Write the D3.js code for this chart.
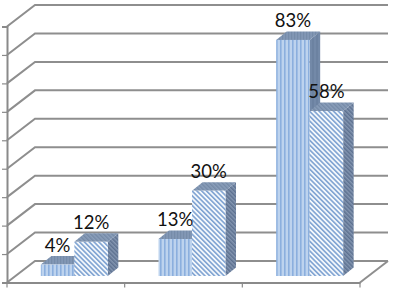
<!DOCTYPE html>
<html>
<head>
<meta charset="utf-8">
<script src="https://cdn.jsdelivr.net/npm/d3@7"></script>
<style>
  html, body { margin: 0; padding: 0; background: #fff; overflow: hidden; }
  svg { display: block; }
</style>
</head>
<body>
<div id="chart"></div>
<script>
// values
var categories = ["A", "B", "C"];
var seriesStriped = [4, 13, 83];
var seriesHatched = [12, 30, 58];
var valueTicks = [0, 10, 20, 30, 40, 50, 60, 70, 80, 90];

var width = 394, height = 289;

// the floor/wall offset of the 3d box and of the bars in it
var wall = {dx: 28, dy: -21.5};
var inset = {dx: 8, dy: -6.5};
var side = {dx: 10.5, dy: -8.5};

var svg = d3.select("#chart").append("svg")
  .attr("width", width)
  .attr("height", height);

var x = d3.scaleBand().domain(categories).range([7, 360]);
var y = d3.scaleLinear().domain([0, 90]).range([282.5, 26.5]);

// fill patterns
var defs = svg.append("defs");

function stripes(id, w, h, rotate, bg, fg, bandWidth) {
  var p = defs.append("pattern")
    .attr("id", id)
    .attr("patternUnits", "userSpaceOnUse")
    .attr("width", w)
    .attr("height", h);
  if (rotate) p.attr("patternTransform", "rotate(" + rotate + ")");
  p.append("rect").attr("width", w).attr("height", h).attr("fill", bg);
  p.append("rect").attr("width", bandWidth).attr("height", h).attr("fill", fg);
}

stripes("frontStriped", 4, 4, 0, "#bdd3ee", "#8bafde", 1.6);
stripes("frontHatched", 3.4, 3.4, -45, "#f4f8fc", "#7fa3d2", 1.6);
stripes("topStriped", 3, 3, 0, "#8297b5", "#768ca9", 1.2);
stripes("topHatched", 3, 3, -45, "#8a9eba", "#7489a6", 1.4);
stripes("sideStriped", 4, 4, 0, "#7389a8", "#6c82a1", 2);
stripes("sideHatched", 3, 3, -45, "#8496b1", "#5d7190", 1.5);

// back wall gridlines, with the slanted part down to the front edge
var grid = svg.append("g")
  .attr("fill", "none")
  .attr("stroke", "#8e8e8e")
  .attr("stroke-width", 2);

grid.selectAll("path")
  .data(valueTicks)
  .enter()
  .append("path")
  .attr("d", function(d) {
    var x0 = x.range()[0], x1 = x.range()[1] + wall.dx;
    return "M" + x0 + "," + y(d) +
      "L" + (x0 + wall.dx) + "," + (y(d) + wall.dy) +
      "L" + x1 + "," + (y(d) + wall.dy);
  });

// right edge of the floor
grid.append("path")
  .attr("d", "M" + x.range()[1] + "," + y(0) +
    "L" + (x.range()[1] + wall.dx) + "," + (y(0) + wall.dy));

// axes
var axisLeft = svg.append("g")
  .attr("transform", "translate(" + x.range()[0] + ",0)")
  .call(d3.axisLeft(y).tickValues(valueTicks).tickSize(5).tickFormat(""));

var axisBottom = svg.append("g")
  .attr("transform", "translate(0," + y(0) + ")")
  .call(d3.axisBottom(x).tickSize(0).tickFormat(""));

// band axis has no ticks on the band edges, so put them in from the scale
axisBottom.selectAll(".edge")
  .data(categories.concat("end"))
  .enter()
  .append("line")
  .attr("class", "edge")
  .attr("x1", function(d) { return d === "end" ? x.range()[1] : x(d); })
  .attr("x2", function(d) { return d === "end" ? x.range()[1] : x(d); })
  .attr("y1", 0)
  .attr("y2", 5);

svg.selectAll(".domain").attr("stroke", "#8a8a8a").attr("stroke-width", 2);
axisLeft.selectAll(".tick line").attr("stroke", "#8a8a8a").attr("stroke-width", 1.2);
axisBottom.selectAll(".edge").attr("stroke", "#8a8a8a").attr("stroke-width", 1.2);

// bars
var groupWidth = 67;
var barWidth = groupWidth / 2;
var base = y(0) + inset.dy;

function barTop(v) { return y(v) + inset.dy; }

function drawBar(name, values, offset) {
  var g = svg.append("g").attr("class", name);
  var left = function(i) { return x(categories[i]) + inset.dx + (x.bandwidth() - groupWidth) / 2 + 0.5 + offset; };
  var idx = d3.range(values.length);

  g.selectAll(".side")
    .data(idx)
    .enter()
    .append("path")
    .attr("fill", "url(#side" + name + ")")
    .attr("d", function(i) {
      var r = left(i) + barWidth;
      return "M" + r + "," + barTop(values[i]) +
        "L" + (r + side.dx) + "," + (barTop(values[i]) + side.dy) +
        "L" + (r + side.dx) + "," + (base + side.dy) +
        "L" + r + "," + base + "Z";
    });

  g.selectAll(".top")
    .data(idx)
    .enter()
    .append("path")
    .attr("fill", "url(#top" + name + ")")
    .attr("d", function(i) {
      var l = left(i), t = barTop(values[i]);
      return "M" + l + "," + t +
        "L" + (l + side.dx) + "," + (t + side.dy) +
        "L" + (l + barWidth + side.dx) + "," + (t + side.dy) +
        "L" + (l + barWidth) + "," + t + "Z";
    });

  g.selectAll(".front")
    .data(idx)
    .enter()
    .append("rect")
    .attr("fill", "url(#front" + name + ")")
    .attr("x", left)
    .attr("y", function(i) { return barTop(values[i]); })
    .attr("width", barWidth)
    .attr("height", function(i) { return base - barTop(values[i]); });

  return left;
}

var leftStriped = drawBar("Striped", seriesStriped, 0);
var leftHatched = drawBar("Hatched", seriesHatched, barWidth);

// value labels
function drawLabels(values, left) {
  svg.append("g")
    .selectAll("text")
    .data(d3.range(values.length))
    .enter()
    .append("text")
    .attr("x", function(i) { return left(i) + barWidth / 2; })
    .attr("y", function(i) { return barTop(values[i]) - 13; })
    .attr("text-anchor", "middle")
    .attr("font-family", "Lato, 'Open Sans', sans-serif")
    .attr("font-size", 18.5)
    .attr("fill", "#111")
    .text(function(i) { return values[i] + "%"; });
}

drawLabels(seriesStriped, leftStriped);
drawLabels(seriesHatched, leftHatched);
</script>
</body>
</html>
